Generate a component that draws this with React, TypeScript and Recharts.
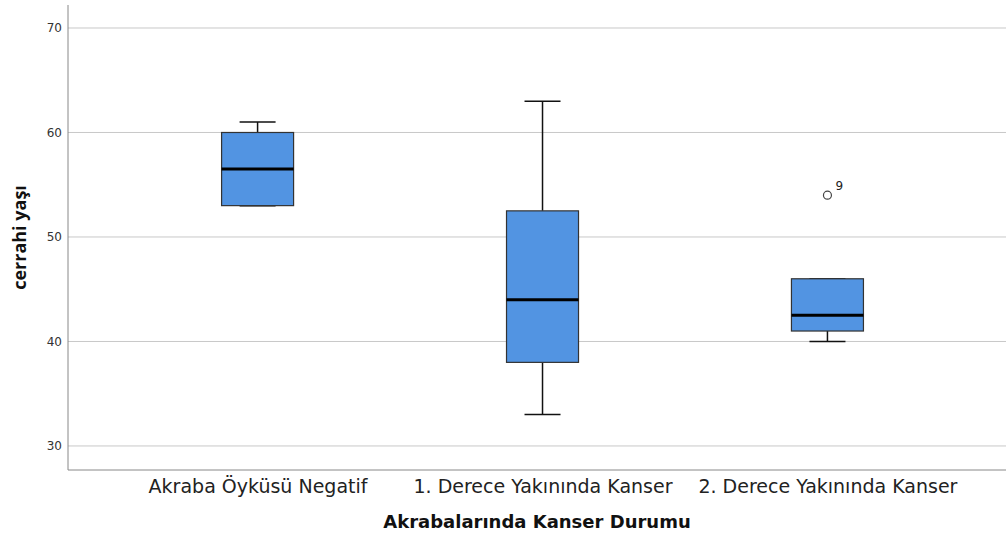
import React from 'react';
import { ComposedChart, Bar, XAxis, YAxis, CartesianGrid } from 'recharts';

const categories = ['Akraba Öyküsü Negatif', '1. Derece Yakınında Kanser', '2. Derece Yakınında Kanser'];
const whiskerLow = [53, 33, 40];
const q1 = [53, 38, 41];
const median = [56.5, 44, 42.5];
const q3 = [60, 52.5, 46];
const whiskerHigh = [61, 63, 46];
const outlierGroup = [2];
const outlierValue = [54];
const outlierLabel = ['9'];
const yTicks = [30, 40, 50, 60, 70];
const yDomain = [27.7, 72.2];

const boxes = categories.map((name, i) => ({
  x: i,
  name,
  min: whiskerLow[i],
  q1: q1[i],
  median: median[i],
  q3: q3[i],
  max: whiskerHigh[i],
  range: [whiskerLow[i], whiskerHigh[i]],
  outliers: outlierGroup
    .map((g, j) => ({ g, v: outlierValue[j], label: outlierLabel[j] }))
    .filter((o) => o.g === i),
}));

const BOX_FILL = '#5294e2';
const FONT = '"DejaVu Sans", "Open Sans", sans-serif';

function BoxShape(props: any) {
  const { x, y, width, height, payload } = props;
  const k = height / (payload.max - payload.min);
  const py = (v: number) => y + (payload.max - v) * k;
  const cx = x + width / 2;
  const cap = width / 4;
  return (
    <g>
      <line x1={cx} x2={cx} y1={py(payload.max)} y2={py(payload.q3)} stroke="#111" strokeWidth={1.5} />
      <line x1={cx} x2={cx} y1={py(payload.q1)} y2={py(payload.min)} stroke="#111" strokeWidth={1.5} />
      <line x1={cx - cap} x2={cx + cap} y1={py(payload.max)} y2={py(payload.max)} stroke="#111" strokeWidth={1.5} />
      <line x1={cx - cap} x2={cx + cap} y1={py(payload.min)} y2={py(payload.min)} stroke="#111" strokeWidth={1.5} />
      <rect x={x} y={py(payload.q3)} width={width} height={py(payload.q1) - py(payload.q3)} fill={BOX_FILL} stroke="#333" strokeWidth={1.2} />
      <line x1={x} x2={x + width} y1={py(payload.median)} y2={py(payload.median)} stroke="#000" strokeWidth={3} />
      {payload.outliers.map((o: any) => (
        <g key={o.label}>
          <circle cx={cx} cy={py(o.v)} r={4} fill="#fff" stroke="#444" strokeWidth={1.2} />
          <text x={cx + 8} y={py(o.v) - 5} fontSize={12} fill="#222" fontFamily={FONT}>{o.label}</text>
        </g>
      ))}
    </g>
  );
}

// grid rows at the tick values only, no lines on the plot edges
const gridRows = (args: any) => {
  const scale = args?.yAxis?.scale;
  if (typeof scale === 'function') return yTicks.map((t) => scale(t));
  const off = args?.offset;
  if (!off || typeof off.top !== 'number' || typeof off.height !== 'number') return [];
  return yTicks.map((t) => off.top + (off.height * (yDomain[1] - t)) / (yDomain[1] - yDomain[0]));
};

export default function App() {
  return (
    <div style={{ position: 'absolute', left: 0, top: 0, background: '#fff' }}>
      <ComposedChart width={1006} height={534} data={boxes} margin={{ top: 5, right: 0, bottom: 0, left: 0 }}>
        <CartesianGrid
          vertical={false}
          stroke="#c8c8c8"
          horizontalCoordinatesGenerator={gridRows}
        />
        <XAxis
          type="number"
          dataKey="x"
          domain={[-0.667, 2.625]}
          ticks={[0, 1, 2]}
          interval={0}
          tickFormatter={(v: number) => categories[v] ?? ''}
          height={64}
          tickLine={false}
          tickSize={6}
          tickMargin={4}
          axisLine={{ stroke: '#888' }}
          tick={{ fontSize: 19, fill: '#222', fontFamily: FONT }}
          label={{ value: 'Akrabalarında Kanser Durumu', position: 'insideBottom', offset: 6, style: { fontSize: 18, fontWeight: 700, fill: '#111', fontFamily: FONT } }}
        />
        <YAxis
          type="number"
          domain={yDomain}
          ticks={yTicks}
          width={68}
          tickLine={false}
          tickSize={4}
          tickMargin={2}
          axisLine={{ stroke: '#888' }}
          tick={{ fontSize: 12, fill: '#333', fontFamily: FONT }}
          label={{ value: 'cerrahi yaşı', angle: -90, position: 'insideLeft', offset: 20, style: { textAnchor: 'middle', fontSize: 18, fontWeight: 700, fill: '#111', fontFamily: '"Open Sans", sans-serif' } }}
        />
        <Bar dataKey="range" barSize={72} shape={<BoxShape />} isAnimationActive={false} />
      </ComposedChart>
    </div>
  );
}
